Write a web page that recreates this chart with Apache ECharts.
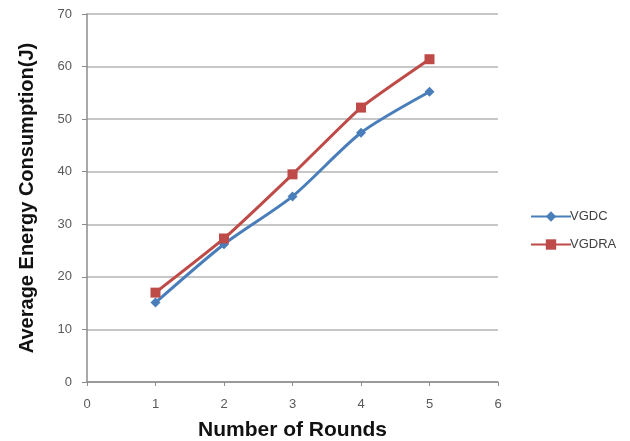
<!DOCTYPE html>
<html><head><meta charset="utf-8">
<script src="https://cdn.jsdelivr.net/npm/echarts@6/dist/echarts.min.js"></script>
<style>html,body{margin:0;padding:0;background:#fff}#c{width:630px;height:441px}</style>
</head><body><div id="c"></div>
<script>
var rounds = [1, 2, 3, 4, 5];
var vgdc = [15.1, 26.2, 35.3, 47.4, 55.2];
var vgdra = [17.0, 27.3, 39.5, 52.2, 61.4];
var xTitle = 'Number of Rounds';
var yTitle = 'Average Energy Consumption(J)';

function pairs(xs, ys){ return xs.map(function(x,i){ return [x, ys[i]]; }); }

var chart = echarts.init(document.getElementById('c'));
chart.setOption({
  animation: false,
  backgroundColor: '#fff',
  grid: { left: 87, right: 132, top: 14, bottom: 59, containLabel: false, outerBoundsMode: 'none' },
  legend: {
    orient: 'vertical', left: 525, top: 205, itemGap: 15,
    itemWidth: 40, itemHeight: 13,
    textStyle: { fontFamily: 'Liberation Sans, Arial', fontSize: 13, lineHeight: 13, color: '#404040', padding: [0,0,0,-6] },
    data: ['VGDC', 'VGDRA']
  },
  xAxis: {
    type: 'value', min: 0, max: 6, interval: 1,
    name: xTitle, nameLocation: 'middle', nameGap: 38,
    nameTextStyle: { fontFamily: 'Liberation Sans, Arial', fontWeight: 'bold', fontSize: 21, color: '#111' },
    axisLine: { show: true, lineStyle: { color: '#8c8c8c', width: 1.5 } },
    axisTick: { show: true, length: 4, lineStyle: { color: '#8c8c8c' } },
    axisLabel: { fontFamily: 'Liberation Sans, Arial', fontSize: 13, color: '#595959', margin: 16 },
    splitLine: { show: false }
  },
  yAxis: {
    type: 'value', min: 0, max: 70, interval: 10,
    name: yTitle, nameLocation: 'middle', nameGap: 50, nameRotate: 90,
    nameTextStyle: { fontFamily: 'Liberation Sans, Arial', fontWeight: 'bold', fontSize: 20, color: '#111' },
    axisLine: { show: true, lineStyle: { color: '#8c8c8c', width: 1.5 } },
    axisTick: { show: true, length: 5, lineStyle: { color: '#8c8c8c' } },
    axisLabel: { fontFamily: 'Liberation Sans, Arial', fontSize: 13, color: '#595959', margin: 15 },
    splitLine: { show: true, lineStyle: { color: '#b5b5b5', width: 1.5 } }
  },
  series: [
    { name: 'VGDC', type: 'line', data: pairs(rounds, vgdc), smooth: 0.25,
      symbol: 'diamond', symbolSize: 10,
      lineStyle: { color: '#4a7ebb', width: 3 }, itemStyle: { color: '#4a7ebb' } },
    { name: 'VGDRA', type: 'line', data: pairs(rounds, vgdra), smooth: 0.15,
      symbol: 'rect', symbolSize: 10,
      lineStyle: { color: '#be4b48', width: 3 }, itemStyle: { color: '#be4b48' } }
  ]
});
</script></body></html>
